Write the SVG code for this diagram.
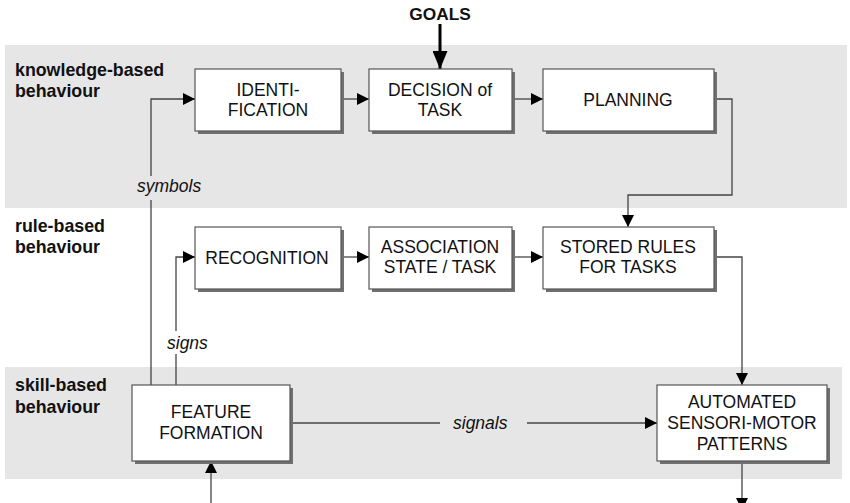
<svg xmlns="http://www.w3.org/2000/svg" width="850" height="503" viewBox="0 0 850 503">
<style>
.band{fill:#e6e6e6}
.box{fill:#fff;stroke:#555;stroke-width:1.2}
.shadow{fill:#707070}
.t{font-family:"Liberation Sans",Arial,sans-serif;font-size:17.5px;fill:#111;text-anchor:middle}
.lbl{font-family:"Liberation Sans",Arial,sans-serif;font-size:17.8px;font-weight:bold;fill:#111}
.it{font-family:"Liberation Sans",Arial,sans-serif;font-size:17.5px;font-style:italic;fill:#111}
.c{fill:none;stroke:#444;stroke-width:1.3}
</style>
<defs>
<marker id="ah" markerWidth="12" markerHeight="12" viewBox="0 0 12 12" refX="12" refY="6" orient="auto" markerUnits="userSpaceOnUse">
<path d="M0,0 L12,6 L0,12 Z" fill="#000"/>
</marker>
<marker id="ahb" markerWidth="18" markerHeight="15" viewBox="0 0 18 15" refX="18" refY="7.5" orient="auto" markerUnits="userSpaceOnUse">
<path d="M0,0 L18,7.5 L0,15 Z" fill="#000"/>
</marker>
</defs>
<rect width="850" height="503" fill="#fff"/>
<rect class="band" x="5" y="45" width="842" height="163"/>
<rect class="band" x="5" y="367" width="837" height="112"/>
<text class="lbl" x="15" y="76">knowledge-based</text>
<text class="lbl" x="15" y="97">behaviour</text>
<text class="lbl" x="15" y="232">rule-based</text>
<text class="lbl" x="15" y="253">behaviour</text>
<text class="lbl" x="15" y="391">skill-based</text>
<text class="lbl" x="15" y="413">behaviour</text>
<text class="lbl" x="440" y="20" text-anchor="middle" style="font-size:17.3px">GOALS</text>

<g id="connectors">
<line x1="440" y1="24" x2="440" y2="69" stroke="#000" stroke-width="3" marker-end="url(#ahb)"/>
<path class="c" d="M151,385 V200"/>
<path class="c" d="M151,176 V99 H195" marker-end="url(#ah)"/>
<path class="c" d="M176,385 V354"/>
<path class="c" d="M176,331 V257 H195" marker-end="url(#ah)"/>
<path class="c" d="M341,99 H369" marker-end="url(#ah)"/>
<path class="c" d="M512,99 H543" marker-end="url(#ah)"/>
<path class="c" d="M714,99 H732 V195 H628 V227" marker-end="url(#ah)"/>
<path class="c" d="M341,257 H369" marker-end="url(#ah)"/>
<path class="c" d="M512,257 H543" marker-end="url(#ah)"/>
<path class="c" d="M714,257 H742 V385" marker-end="url(#ah)"/>
<path class="c" d="M290,423 H440"/>
<path class="c" d="M527,423 H657" marker-end="url(#ah)"/>
<path class="c" d="M211,503 V461" marker-end="url(#ah)"/>
<path class="c" d="M742,461 V510" marker-end="url(#ah)"/>
<text class="it" x="137" y="192">symbols</text>
<text class="it" x="167" y="349">signs</text>
<text class="it" x="453" y="429">signals</text>
</g>

<g id="identification">
<rect class="shadow" x="198" y="72" width="146" height="62"/>
<rect class="box" x="195" y="69" width="146" height="62"/>
<text class="t" x="268" y="96">IDENTI-</text>
<text class="t" x="268" y="116">FICATION</text>
</g>
<g id="decision">
<rect class="shadow" x="372" y="72" width="143" height="62"/>
<rect class="box" x="369" y="69" width="143" height="62"/>
<text class="t" x="440" y="96">DECISION of</text>
<text class="t" x="440" y="116">TASK</text>
</g>
<g id="planning">
<rect class="shadow" x="546" y="72" width="171" height="62"/>
<rect class="box" x="543" y="69" width="171" height="62"/>
<text class="t" x="628" y="106">PLANNING</text>
</g>
<g id="recognition">
<rect class="shadow" x="198" y="230" width="146" height="62"/>
<rect class="box" x="195" y="227" width="146" height="62"/>
<text class="t" x="267" y="264">RECOGNITION</text>
</g>
<g id="association">
<rect class="shadow" x="372" y="230" width="143" height="62"/>
<rect class="box" x="369" y="227" width="143" height="62"/>
<text class="t" x="440" y="253">ASSOCIATION</text>
<text class="t" x="440" y="273">STATE / TASK</text>
</g>
<g id="stored-rules">
<rect class="shadow" x="546" y="230" width="171" height="62"/>
<rect class="box" x="543" y="227" width="171" height="62"/>
<text class="t" x="628" y="253">STORED RULES</text>
<text class="t" x="628" y="273">FOR TASKS</text>
</g>
<g id="feature-formation">
<rect class="shadow" x="135" y="388" width="158" height="76"/>
<rect class="box" x="132" y="385" width="158" height="76"/>
<text class="t" x="211" y="418">FEATURE</text>
<text class="t" x="211" y="439">FORMATION</text>
</g>
<g id="automated">
<rect class="shadow" x="660" y="388" width="170" height="76"/>
<rect class="box" x="657" y="385" width="170" height="76"/>
<text class="t" x="742" y="408">AUTOMATED</text>
<text class="t" x="742" y="429">SENSORI-MOTOR</text>
<text class="t" x="742" y="450">PATTERNS</text>
</g>
</svg>
